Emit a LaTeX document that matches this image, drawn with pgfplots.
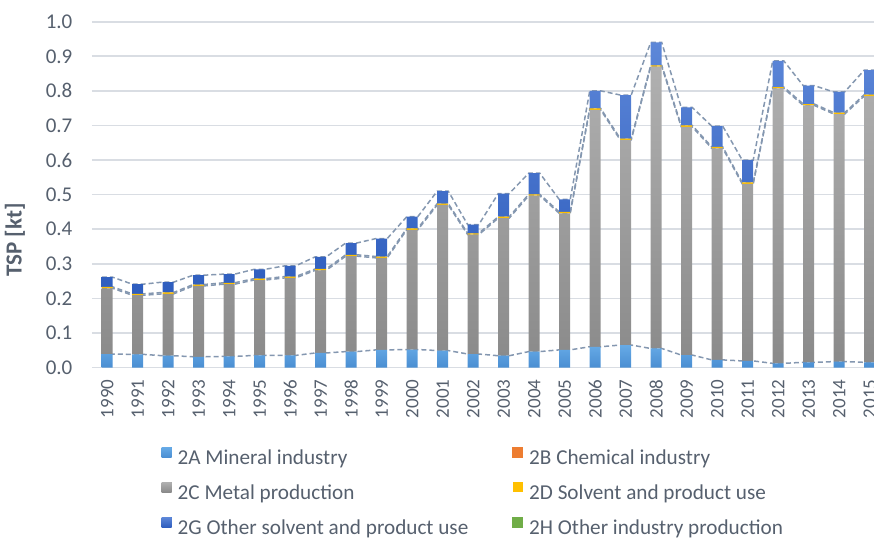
\documentclass[border=0pt]{standalone}
\usepackage{fontspec}
\setmainfont{Carlito}
\usepackage{pgfplots}
\pgfplotsset{compat=1.18}
\usepackage{pgfplotstable}

\definecolor{txt}{HTML}{56606E}
\definecolor{gridc}{HTML}{D9DDE3}
\definecolor{sline}{HTML}{8497B0}
\definecolor{cAt}{HTML}{66AAE6}
\definecolor{cAb}{HTML}{4A8ED2}
\definecolor{cA}{HTML}{5B9BD5}
\definecolor{cB}{HTML}{ED7D31}
\definecolor{cCt}{HTML}{B0B0B0}
\definecolor{cCb}{HTML}{8A8A8A}
\definecolor{cC}{HTML}{A5A5A5}
\definecolor{cD}{HTML}{FFC000}
\definecolor{cGt}{HTML}{5D87D8}
\definecolor{cGb}{HTML}{2E5DBE}
\definecolor{cG}{HTML}{4472C4}
\definecolor{cH}{HTML}{70AD47}

\pgfplotstableread{
i A C D G
0 0.039 0.190 0.004 0.028
1 0.038 0.171 0.004 0.028
2 0.034 0.179 0.004 0.030
3 0.031 0.205 0.004 0.027
4 0.032 0.209 0.004 0.025
5 0.035 0.218 0.004 0.027
6 0.035 0.224 0.004 0.031
7 0.042 0.239 0.004 0.035
8 0.046 0.276 0.004 0.034
9 0.051 0.266 0.004 0.052
10 0.052 0.346 0.004 0.034
11 0.049 0.421 0.004 0.036
12 0.039 0.345 0.004 0.025
13 0.034 0.398 0.004 0.067
14 0.046 0.451 0.004 0.061
15 0.051 0.395 0.004 0.036
16 0.060 0.685 0.004 0.051
17 0.065 0.593 0.004 0.126
18 0.055 0.815 0.004 0.066
19 0.036 0.660 0.004 0.052
20 0.022 0.612 0.004 0.060
21 0.019 0.512 0.004 0.065
22 0.012 0.795 0.004 0.076
23 0.015 0.743 0.004 0.053
24 0.017 0.716 0.004 0.060
25 0.015 0.770 0.004 0.071
}\bars

\pgfplotstableread{
x a c d t
-0.18 0.039 0.229 0.233 0.261
0.18 0.039 0.229 0.233 0.261
0.82 0.038 0.209 0.213 0.241
1.18 0.038 0.209 0.213 0.241
1.82 0.034 0.213 0.217 0.247
2.18 0.034 0.213 0.217 0.247
2.82 0.031 0.236 0.240 0.267
3.18 0.031 0.236 0.240 0.267
3.82 0.032 0.241 0.245 0.270
4.18 0.032 0.241 0.245 0.270
4.82 0.035 0.253 0.257 0.284
5.18 0.035 0.253 0.257 0.284
5.82 0.035 0.259 0.263 0.294
6.18 0.035 0.259 0.263 0.294
6.82 0.042 0.281 0.285 0.320
7.18 0.042 0.281 0.285 0.320
7.82 0.046 0.322 0.326 0.360
8.18 0.046 0.322 0.326 0.360
8.82 0.051 0.317 0.321 0.373
9.18 0.051 0.317 0.321 0.373
9.82 0.052 0.398 0.402 0.436
10.18 0.052 0.398 0.402 0.436
10.82 0.049 0.470 0.474 0.510
11.18 0.049 0.470 0.474 0.510
11.82 0.039 0.384 0.388 0.413
12.18 0.039 0.384 0.388 0.413
12.82 0.034 0.432 0.436 0.503
13.18 0.034 0.432 0.436 0.503
13.82 0.046 0.497 0.501 0.562
14.18 0.046 0.497 0.501 0.562
14.82 0.051 0.446 0.450 0.486
15.18 0.051 0.446 0.450 0.486
15.82 0.060 0.745 0.749 0.800
16.18 0.060 0.745 0.749 0.800
16.82 0.065 0.658 0.662 0.788
17.18 0.065 0.658 0.662 0.788
17.82 0.055 0.870 0.874 0.940
18.18 0.055 0.870 0.874 0.940
18.82 0.036 0.696 0.700 0.752
19.18 0.036 0.696 0.700 0.752
19.82 0.022 0.634 0.638 0.698
20.18 0.022 0.634 0.638 0.698
20.82 0.019 0.531 0.535 0.600
21.18 0.019 0.531 0.535 0.600
21.82 0.012 0.807 0.811 0.887
22.18 0.012 0.807 0.811 0.887
22.82 0.015 0.758 0.762 0.815
23.18 0.015 0.758 0.762 0.815
23.82 0.017 0.733 0.737 0.797
24.18 0.017 0.733 0.737 0.797
24.82 0.015 0.785 0.789 0.860
25.18 0.015 0.785 0.789 0.860
}\slines

\pgfplotsset{
  common/.style={
    scale only axis, width=391pt, height=172.9pt,
    xmin=-0.5, xmax=25.14, ymin=0, ymax=1,
    ytick={0,0.1,0.2,0.3,0.4,0.5,0.6,0.7,0.8,0.9,1.0},
    axis line style={draw=none}, major tick length=0pt,
  }
}

\begin{document}
\begin{tikzpicture}
% background: grid and series lines
\begin{axis}[common, xtick=\empty, yticklabels={},
  ymajorgrids, grid style={gridc, line width=0.8pt}]
\addplot[sline, line width=0.75pt, dash pattern=on 2.5pt off 1.5pt] table[x=x,y=a]{\slines};
\addplot[sline, line width=0.75pt, dash pattern=on 2.5pt off 1.5pt] table[x=x,y=c]{\slines};
\addplot[sline, line width=0.75pt, dash pattern=on 2.5pt off 1.5pt] table[x=x,y=d]{\slines};
\addplot[sline, line width=0.75pt, dash pattern=on 2.5pt off 1.5pt] table[x=x,y=t]{\slines};
\end{axis}
% bars, labels, legend
\begin{axis}[common, ybar stacked, bar width=5.5pt,
  /pgf/number format/assume math mode=true,
  xtick={0,...,25},
  xticklabels={1990,1991,1992,1993,1994,1995,1996,1997,1998,1999,2000,2001,2002,2003,2004,2005,2006,2007,2008,2009,2010,2011,2012,2013,2014,2015},
  xticklabel style={rotate=90, anchor=east, inner sep=0pt, font=\fontsize{9.5}{11}\selectfont, text=txt},
  xticklabel shift=5.9pt,
  yticklabel style={inner sep=0pt, font=\fontsize{10.5}{12}\selectfont, text=txt,
    /pgf/number format/fixed, /pgf/number format/fixed zerofill, /pgf/number format/precision=1},
  yticklabel shift=9.6pt,
  ylabel={TSP [kt]},
  ylabel style={at={(axis description cs:-0.0985,0.369)}, anchor=center, font=\bfseries\fontsize{11.5}{13}\selectfont, text=txt},
  legend columns=2,
  legend cell align=left,
  legend style={draw=none, fill=none, inner sep=0pt, outer sep=0pt,
    at={(axis description cs:0.0891,-0.2299)}, anchor=north west,
    font=\fontsize{10.6}{12}\selectfont, text=txt,
    column sep=3pt, row sep=6.35pt,
    /tikz/every even column/.append style={column sep=22pt},
    nodes={inner sep=0pt, text height=7.5pt, text depth=2.5pt}},
]
\addplot[draw=none, top color=cAt, bottom color=cAb,
  legend image code/.code={\fill[cA] (0pt,1pt) rectangle (5pt,6pt);}] table[x=i,y=A]{\bars};
\addlegendentry{2A Mineral industry}
\addlegendimage{legend image code/.code={\fill[cB] (0pt,1pt) rectangle (5pt,6pt);}}
\addlegendentry{2B Chemical industry}
\addplot[draw=none, top color=cCt, bottom color=cCb,
  legend image code/.code={\fill[cC] (0pt,1pt) rectangle (5pt,6pt);}] table[x=i,y=C]{\bars};
\addlegendentry{2C Metal production}
\addplot[draw=none, fill=cD,
  legend image code/.code={\fill[cD] (0pt,1pt) rectangle (5pt,6pt);}] table[x=i,y=D]{\bars};
\addlegendentry{2D Solvent and product use}
\addplot[draw=none, top color=cGt, bottom color=cGb,
  legend image code/.code={\fill[cG] (0pt,1pt) rectangle (5pt,6pt);}] table[x=i,y=G]{\bars};
\addlegendentry{2G Other solvent and product use}
\addlegendimage{legend image code/.code={\fill[cH] (0pt,1pt) rectangle (5pt,6pt);}}
\addlegendentry{2H Other industry production}
\end{axis}
\pgfresetboundingbox
\useasboundingbox (-46pt,-86.75pt) rectangle (391pt,183.75pt);
\end{tikzpicture}
\end{document}
